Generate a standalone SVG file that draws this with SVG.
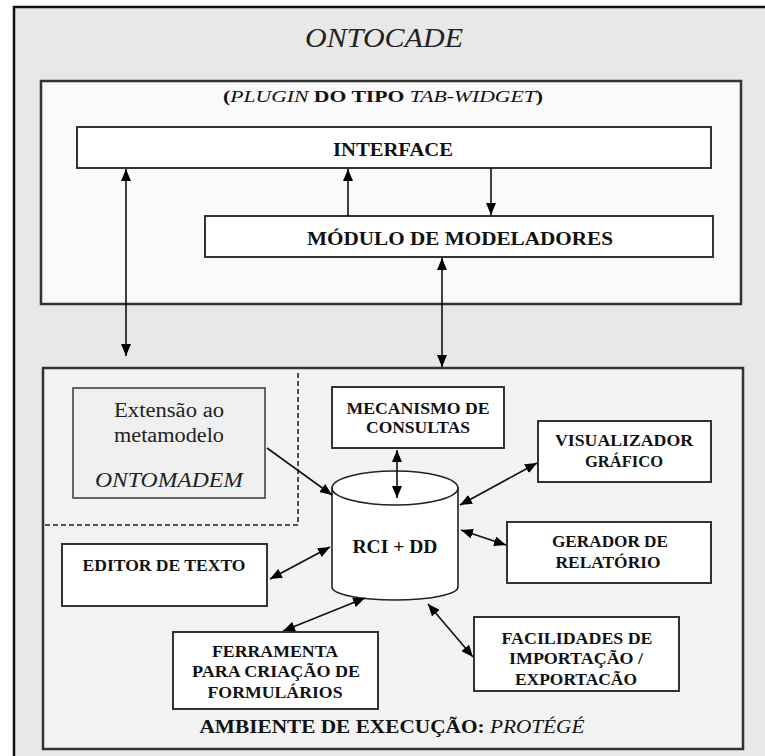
<svg xmlns="http://www.w3.org/2000/svg" width="765" height="756" viewBox="0 0 765 756">
<defs>
<style>
.frame{stroke:#333;stroke-width:2.5}
.box{fill:#fff;stroke:#333;stroke-width:2}
.b{font-family:'Liberation Serif','Tinos','DejaVu Serif','Noto Serif',serif;font-weight:bold;fill:#111;text-anchor:middle}
.r{font-family:'Liberation Serif','Tinos','DejaVu Serif','Noto Serif',serif;fill:#222;text-anchor:middle}
.c{stroke:#111;stroke-width:1.6;fill:none;marker-end:url(#ah)}
.d{stroke:#111;stroke-width:1.6;fill:none;marker-start:url(#ah);marker-end:url(#ah)}
.dash{stroke:#222;stroke-width:1.6;stroke-dasharray:5,3;fill:none}
</style>
<marker id="ah" viewBox="0 0 12 10" refX="12" refY="5" markerWidth="12" markerHeight="10" markerUnits="userSpaceOnUse" orient="auto-start-reverse">
<path d="M0,0 L12,5 L0,10 z" fill="#000"/>
</marker>
</defs>

<g id="outer">
<rect x="14" y="7" width="760" height="760" fill="#e8e8e8" stroke="#111" stroke-width="2.5"/>
<text class="r" x="384" y="47" font-size="28" font-style="italic" textLength="158" lengthAdjust="spacingAndGlyphs">ONTOCADE</text>
</g>

<g id="plugin">
<rect x="41" y="81" width="700" height="223" fill="#fafafa" class="frame"/>
<text class="b" x="383" y="102" font-size="16" textLength="320" lengthAdjust="spacingAndGlyphs">(<tspan font-style="italic" font-weight="normal">PLUGIN</tspan> DO TIPO <tspan font-style="italic" font-weight="normal">TAB-WIDGET</tspan>)</text>
</g>

<g id="interface">
<rect class="box" x="77" y="127" width="634" height="41"/>
<text class="b" x="393" y="156" font-size="19" textLength="120" lengthAdjust="spacingAndGlyphs">INTERFACE</text>
</g>

<g id="modulo">
<rect class="box" x="205" y="216" width="508" height="41"/>
<text class="b" x="460" y="245" font-size="19" textLength="306" lengthAdjust="spacingAndGlyphs">MÓDULO DE MODELADORES</text>
</g>

<g id="ambiente">
<rect x="43" y="368" width="700" height="381" fill="#f3f3f3" class="frame"/>
<text class="b" x="392" y="733" font-size="19" textLength="385" lengthAdjust="spacingAndGlyphs">AMBIENTE DE EXECUÇÃO: <tspan font-style="italic" font-weight="normal">PROTÉGÉ</tspan></text>
<path class="dash" d="M298,373 L298,525 L44,525"/>
</g>

<g id="extensao">
<rect x="73" y="388" width="192" height="110" fill="#f0f0f0" stroke="#444" stroke-width="1.6"/>
<text class="r" x="169" y="417" font-size="20" textLength="110" lengthAdjust="spacingAndGlyphs">Extensão ao</text>
<text class="r" x="169" y="442" font-size="20" textLength="110" lengthAdjust="spacingAndGlyphs">metamodelo</text>
<text class="r" x="169" y="487" font-size="20" font-style="italic" textLength="148" lengthAdjust="spacingAndGlyphs">ONTOMADEM</text>
</g>

<g id="mecanismo">
<rect class="box" x="332" y="387" width="172" height="61"/>
<text class="b" x="418" y="414" font-size="16" textLength="143" lengthAdjust="spacingAndGlyphs">MECANISMO DE</text>
<text class="b" x="418" y="433" font-size="16" textLength="104" lengthAdjust="spacingAndGlyphs">CONSULTAS</text>
</g>

<g id="visualizador">
<rect class="box" x="538" y="421" width="173" height="61"/>
<text class="b" x="624" y="446" font-size="16" textLength="138" lengthAdjust="spacingAndGlyphs">VISUALIZADOR</text>
<text class="b" x="624" y="467" font-size="16" textLength="78" lengthAdjust="spacingAndGlyphs">GRÁFICO</text>
</g>

<g id="rci">
<path d="M332,488 L332,587 A63,13 0 0 0 458,587 L458,488 Z" fill="#fff" stroke="#222" stroke-width="1.6"/>
<ellipse cx="395" cy="488" rx="63" ry="17" fill="#fff" stroke="#222" stroke-width="1.6"/>
<text class="b" x="395" y="553" font-size="18" textLength="85" lengthAdjust="spacingAndGlyphs">RCI + DD</text>
</g>

<g id="gerador">
<rect class="box" x="507" y="522" width="204" height="61"/>
<text class="b" x="610" y="547" font-size="16" textLength="116" lengthAdjust="spacingAndGlyphs">GERADOR DE</text>
<text class="b" x="608" y="568" font-size="16" textLength="105" lengthAdjust="spacingAndGlyphs">RELATÓRIO</text>
</g>

<g id="editor">
<rect class="box" x="62" y="544" width="205" height="62"/>
<text class="b" x="164" y="571" font-size="16" textLength="163" lengthAdjust="spacingAndGlyphs">EDITOR DE TEXTO</text>
</g>

<g id="ferramenta">
<rect class="box" x="173" y="632" width="205" height="77"/>
<text class="b" x="275" y="657" font-size="16" textLength="126" lengthAdjust="spacingAndGlyphs">FERRAMENTA</text>
<text class="b" x="276" y="677" font-size="16" textLength="168" lengthAdjust="spacingAndGlyphs">PARA CRIAÇÃO DE</text>
<text class="b" x="275" y="698" font-size="16" textLength="135" lengthAdjust="spacingAndGlyphs">FORMULÁRIOS</text>
</g>

<g id="facilidades">
<rect class="box" x="474" y="617" width="205" height="74"/>
<text class="b" x="577" y="644" font-size="16" textLength="151" lengthAdjust="spacingAndGlyphs">FACILIDADES DE</text>
<text class="b" x="576" y="664" font-size="16" textLength="134" lengthAdjust="spacingAndGlyphs">IMPORTAÇÃO /</text>
<text class="b" x="576" y="685" font-size="16" textLength="122" lengthAdjust="spacingAndGlyphs">EXPORTACÃO</text>
</g>

<g id="connectors">
<line class="d" x1="126" y1="169" x2="126" y2="356"/>
<line class="c" x1="348" y1="216" x2="348" y2="169"/>
<line class="c" x1="491" y1="168" x2="491" y2="215"/>
<line class="d" x1="442" y1="258" x2="442" y2="367"/>
<line class="c" x1="267" y1="448" x2="332" y2="495"/>
<line class="d" x1="397" y1="450" x2="397" y2="498"/>
<line class="d" x1="537" y1="463" x2="460" y2="505"/>
<line class="d" x1="461" y1="530" x2="506" y2="545"/>
<line class="d" x1="330" y1="547" x2="270" y2="579"/>
<line class="d" x1="365" y1="598" x2="283" y2="631"/>
<line class="d" x1="428" y1="604" x2="473" y2="657"/>
</g>
</svg>
